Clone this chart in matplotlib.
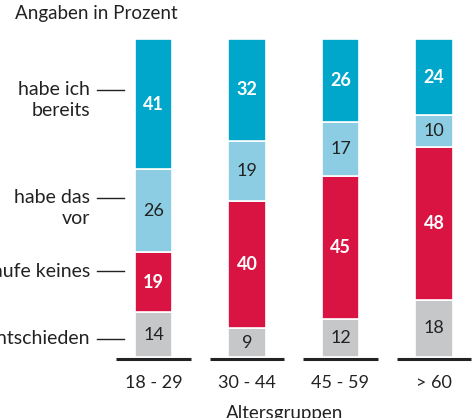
import matplotlib.pyplot as plt
import numpy as np

plt.rcParams['font.family'] = ['Lato', 'DejaVu Sans']

# data
groups = ['18 - 29', '30 - 44', '45 - 59', '> 60']
unentschieden = [14, 9, 12, 18]
kaufe_keines = [19, 40, 45, 48]
habe_das_vor = [26, 19, 17, 10]
habe_ich_bereits = [41, 32, 26, 24]

series = [unentschieden, kaufe_keines, habe_das_vor, habe_ich_bereits]
colors = ['#c6c7c8', '#d91443', '#8dcde3', '#00a7cb']
text_colors = ['#222222', 'white', '#222222', 'white']
weights = ['normal', 'bold', 'normal', 'bold']

fig = plt.figure(figsize=(4.75, 4.18), dpi=100)
ax = fig.add_axes([0, 0, 1, 1])
ax.set_xlim(-1.642, 3.439)
ax.set_ylim(-19.18, 112.26)
ax.axis('off')

x = np.arange(len(groups))
bottom = np.zeros(len(groups))
for vals, c, tc, w in zip(series, colors, text_colors, weights):
    vals = np.array(vals)
    ax.bar(x, vals, bottom=bottom, width=0.4, color=c, edgecolor='white', linewidth=1.2)
    for xi, b, v in zip(x, bottom, vals):
        ax.text(xi, b + v / 2, str(v), ha='center', va='center', color=tc,
                fontsize=13, fontweight=w)
    bottom = bottom + vals

# baseline segments
for xi in x:
    ax.plot([xi - 0.4, xi + 0.4], [-0.7, -0.7], color='#222222', lw=2.2, solid_capstyle='butt')
    ax.text(xi, -8.2, groups[xi], ha='center', va='center', fontsize=13, color='#222222')

ax.text(1.406, -17.8, 'Altersgruppen', ha='center', va='center', fontsize=13.5, color='#222222')
ax.text(-1.481, 107.9, 'Angaben in Prozent', ha='left', va='center', fontsize=13.5, color='#222222')

# category labels with leader lines
labels = [('habe ich', 'bereits', 84.0), ('habe das', 'vor', 50.0),
          ('kaufe keines', None, 27.0), ('unentschieden', None, 5.7)]
for l1, l2, y in labels:
    ax.plot([-0.604, -0.316], [y, y], color='#222222', lw=1)
    ax.text(-0.679, y, l1, ha='right', va='center', fontsize=14, color='#222222')
    if l2:
        ax.text(-0.679, y - 6.6, l2, ha='right', va='center', fontsize=14, color='#222222')

fig.savefig('out.png', dpi=100)
